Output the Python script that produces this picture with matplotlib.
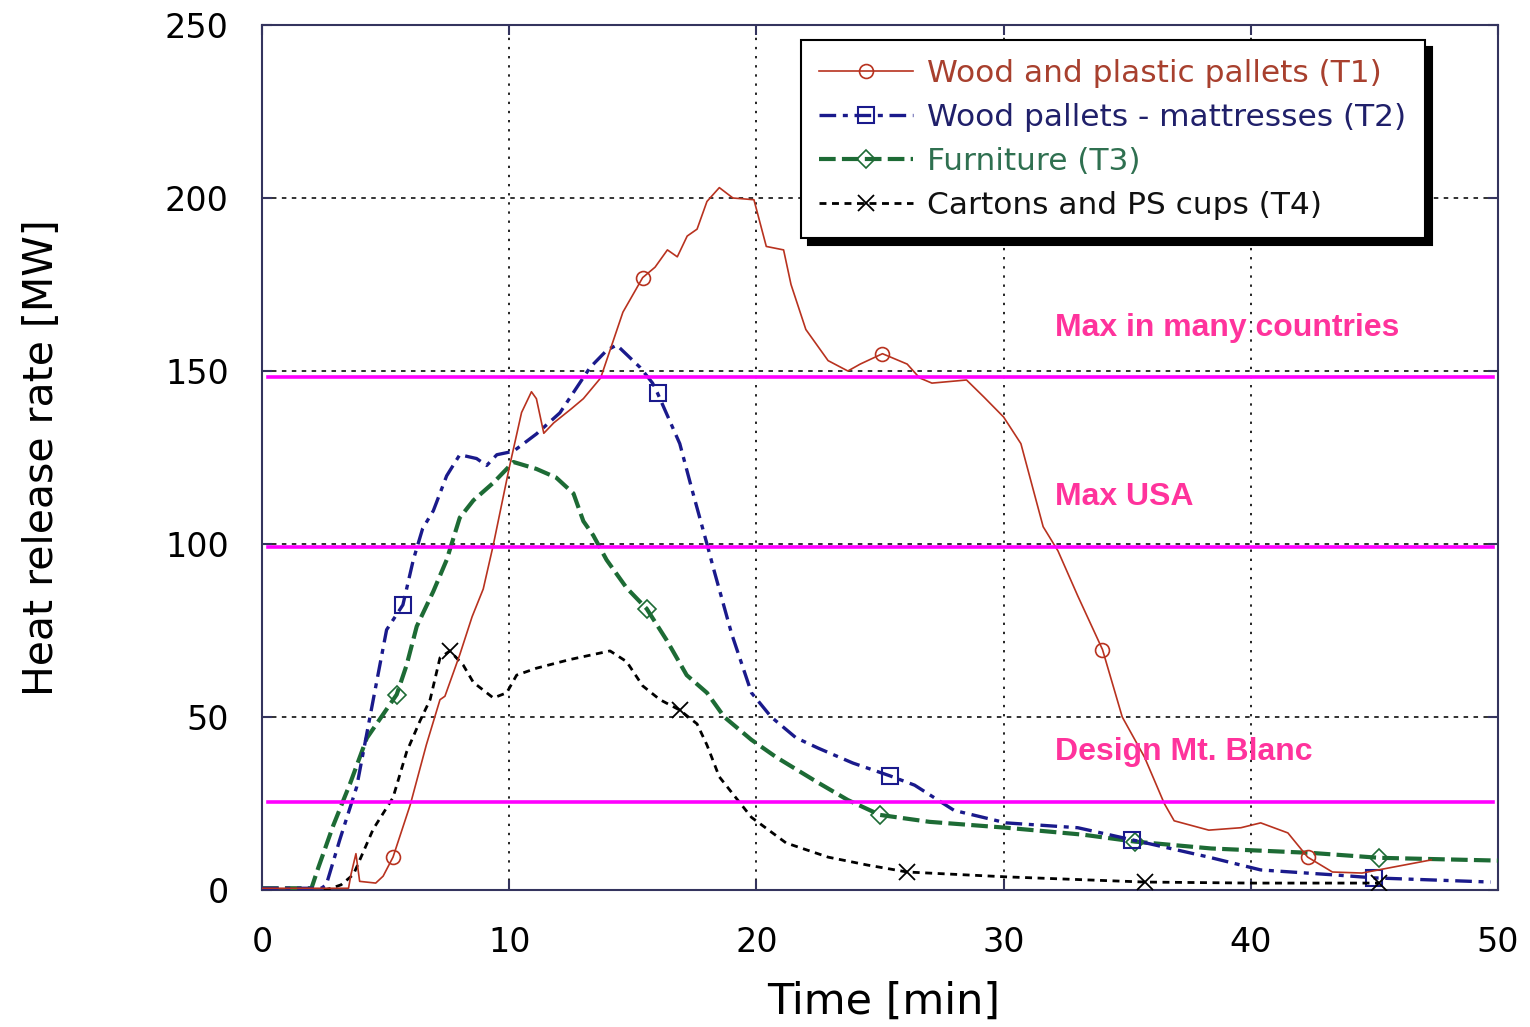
import matplotlib
matplotlib.use('Agg')
import matplotlib.pyplot as plt
import numpy as np

# heat release rate curves
t1 = [0, 3.5, 3.6, 3.8, 3.95, 4.6, 4.9, 5.3, 6.0, 6.65, 7.2, 7.4, 8.0, 8.5, 8.95, 9.35,
      10.0, 10.5, 10.9, 11.1, 11.4, 11.8, 12.5, 13.0, 13.7, 14.6, 15.0, 15.4, 15.9, 16.4,
      16.8, 17.2, 17.6, 18.0, 18.5, 19.05, 19.9, 20.4, 21.1, 21.4, 22.0, 22.9, 23.7, 24.2,
      25.1, 26.1, 26.6, 27.1, 28.5, 29.2, 30.0, 30.7, 31.6, 32.2, 33.0, 34.0, 34.8, 35.7,
      36.5, 36.9, 38.3, 39.6, 40.4, 41.5, 42.3, 43.3, 44.5, 45.6, 47.3]
v1 = [0.5, 0.5, 4.5, 10.5, 2.5, 2, 4, 9.5, 24.7, 42, 55, 56, 68, 79, 87, 99.5,
      122, 138, 144, 142, 132, 135, 139, 142, 148, 167, 172, 177, 180, 185,
      183, 189, 191, 199, 203, 200, 199.5, 186, 185, 175, 162, 153, 150, 152,
      155, 152, 148, 146.5, 147.4, 142.5, 136.7, 129, 105, 98, 85, 69.5, 50, 38.4,
      25, 20, 17.3, 18, 19.4, 16.5, 9.5, 5.2, 4.9, 6.4, 8.7]

t2 = [0, 2.4, 2.6, 3.15, 3.83, 4.5, 5.04, 5.7, 6.12, 6.5, 6.93, 7.47, 8.0, 8.68, 9.09,
      9.5, 10.17, 11.1, 12.05, 13.27, 13.95, 14.35, 15.3, 15.8, 16.0, 16.9, 17.4, 18.0,
      18.3, 19.0, 19.8, 20.6, 21.6, 22.5, 23.9, 25.4, 26.4, 28.0, 30.1, 33.0, 35.2, 38.3,
      40.4, 43.5, 45.0, 49.7]
v2 = [0.5, 0.5, 1.5, 14.6, 29.8, 55, 75.2, 82.4, 95.4, 104.5, 109.6, 119.7, 125.8, 124.7, 122.7,
      125.8, 126.8, 131.8, 137.9, 151, 156, 157.5, 151, 146.5, 143.6, 129, 115.6, 100,
      92, 74, 57, 50, 44, 41, 36.7, 33, 30.3, 23, 19.4, 18, 14.5, 9.5,
      5.8, 4.3, 3.5, 2.3]

t3 = [0, 2.0, 2.28, 2.88, 3.56, 4.24, 5.45, 5.85, 6.26, 6.93, 7.47, 8.0, 8.55, 9.36, 10.17,
      11.1, 11.9, 12.6, 13.0, 13.4, 13.94, 14.75, 15.56, 16.37, 17.18, 18.0, 18.7, 19.8,
      20.8, 22.5, 23.7, 25.0, 27.0, 30.1, 33.2, 35.3, 38.4, 42.5, 45.2, 50]
v3 = [0.5, 0.5, 6.5, 18.6, 30.7, 43.9, 56.5, 65, 76.2, 86.3, 95.4, 107.6, 112.6, 117.7, 123.7,
      121.7, 119.2, 114.6, 106.6, 102.5, 95.4, 87.3, 81.3, 72.2, 62.1, 57, 50, 43.4,
      38.4, 31, 26, 21.7, 19.7, 18, 16, 14, 12, 10.7, 9.3, 8.5]

t4 = [2.5, 2.8, 3.2, 3.7, 4.5, 5.3, 5.85, 6.4, 6.8, 7.2, 7.6, 8.14, 8.55, 9.36, 9.9, 10.3,
      11.1, 12.45, 14.08, 14.75, 15.4, 16.1, 16.9, 17.6, 18.0, 18.5, 19.8, 21.2, 22.9,
      24.5, 26.1, 30.1, 35.7, 40.0, 45.2]
v4 = [0, 0.5, 1.5, 4.5, 17.6, 26.7, 39.9, 49, 55, 67.1, 69.1, 65, 60, 55.5, 57, 62.1,
      64.1, 66.6, 69.1, 66, 59, 55, 52, 48, 41.9, 32.7, 21, 13.6, 9.5,
      7.2, 5.2, 3.8, 2.3, 2, 2]

# where the symbols sit on each curve
mk1 = [5.3, 15.4, 25.1, 34.0, 42.3]
mk2 = [5.7, 16.0, 25.4, 35.2, 45.0]
mk3 = [5.45, 15.56, 25.0, 35.3, 45.2]
mk4 = [7.6, 16.9, 26.1, 35.7, 45.2]

labels = ['Wood and plastic pallets (T1)', 'Wood pallets - mattresses (T2)',
          'Furniture (T3)', 'Cartons and PS cups (T4)']

limits = [148.3, 99.1, 25.4]
limit_text = ['Max in many countries', 'Max USA', 'Design Mt. Blanc']
limit_text_y = [160, 111.3, 37.6]

plt.rcParams['font.family'] = ['DejaVu Sans']


def idx(t, marks):
    t = np.asarray(t)
    return [int(np.argmin(np.abs(t - m))) for m in marks]


fig = plt.figure(figsize=(15.3, 10.27), dpi=100)
ax = fig.add_axes([262/1530, 1-890/1027, 1236/1530, 865/1027])

frame = '#34345e'
l1, = ax.plot(t1, v1, color='#b8321f', lw=1.2, marker='o', ms=10, mfc='none',
              mew=1.2, markevery=idx(t1, mk1), label=labels[0], zorder=5)
l2, = ax.plot(t2, v2, color='#1a1a8c', lw=2.4, dashes=(5, 2, 1.5, 2), marker='s', ms=12,
              mfc='none', mew=1.5, markevery=idx(t2, mk2), label=labels[1], zorder=4)
l3, = ax.plot(t3, v3, color='#1d6b35', lw=3.0, dashes=(4, 1.5), marker='D', ms=9,
              mfc='none', mew=1.2, markevery=idx(t3, mk3), label=labels[2], zorder=3)
l4, = ax.plot(t4, v4, color='black', lw=2.0, dashes=(2.5, 2), marker='x', ms=11,
              mew=1.3, markevery=idx(t4, mk4), label=labels[3], zorder=4)

for y in limits:
    ax.plot([0.24, 49.8], [y, y], color='#ff00ff', lw=2.6, zorder=6)
for s, y in zip(limit_text, limit_text_y):
    ax.text(32.08, y, s, color='#ff339c', fontsize=23, fontweight='bold',
            family='Liberation Sans', va='baseline', ha='left', zorder=7)

ax.set_xlim(0, 50)
ax.set_ylim(0, 250)
ax.set_xticks(range(0, 51, 10))
ax.set_yticks(range(0, 251, 50))
for x in range(10, 50, 10):
    ax.axvline(x, color='#222222', lw=1.4, ls=(0, (1.2, 3.5)), zorder=1)
for y in range(50, 250, 50):
    ax.axhline(y, color='#222222', lw=1.3, ls=(0, (2.5, 3)), zorder=1)

for sp in ax.spines.values():
    sp.set_color(frame)
    sp.set_linewidth(1.5)
ax.tick_params(direction='in', length=7, width=1.5, color=frame, top=True, right=True,
               labelsize=24)
ax.tick_params(axis='y', pad=24)
ax.tick_params(axis='x', pad=26)

ax.set_xlabel('Time [min]', fontsize=31)
ax.xaxis.set_label_coords(0.503, -0.105)
ax.set_ylabel('Heat release rate [MW]', fontsize=29.5)
ax.yaxis.set_label_coords(-0.162, 0.5)

leg = ax.legend(loc='upper right', bbox_to_anchor=(0.941, 0.9827), borderaxespad=0,
                fontsize=22.5, fancybox=False, edgecolor='black', framealpha=1,
                handlelength=3.0, handletextpad=0.45, labelspacing=0.48, borderpad=0.6,
                shadow={'ox': 5, 'oy': -5, 'color': 'black', 'alpha': 1})
leg.get_frame().set_linewidth(1.5)
leg.set_zorder(10)
for txt, c in zip(leg.get_texts(), ['#a8402e', '#20206a', '#2f7050', '#111111']):
    txt.set_color(c)

fig.savefig('out.png', dpi=100)
